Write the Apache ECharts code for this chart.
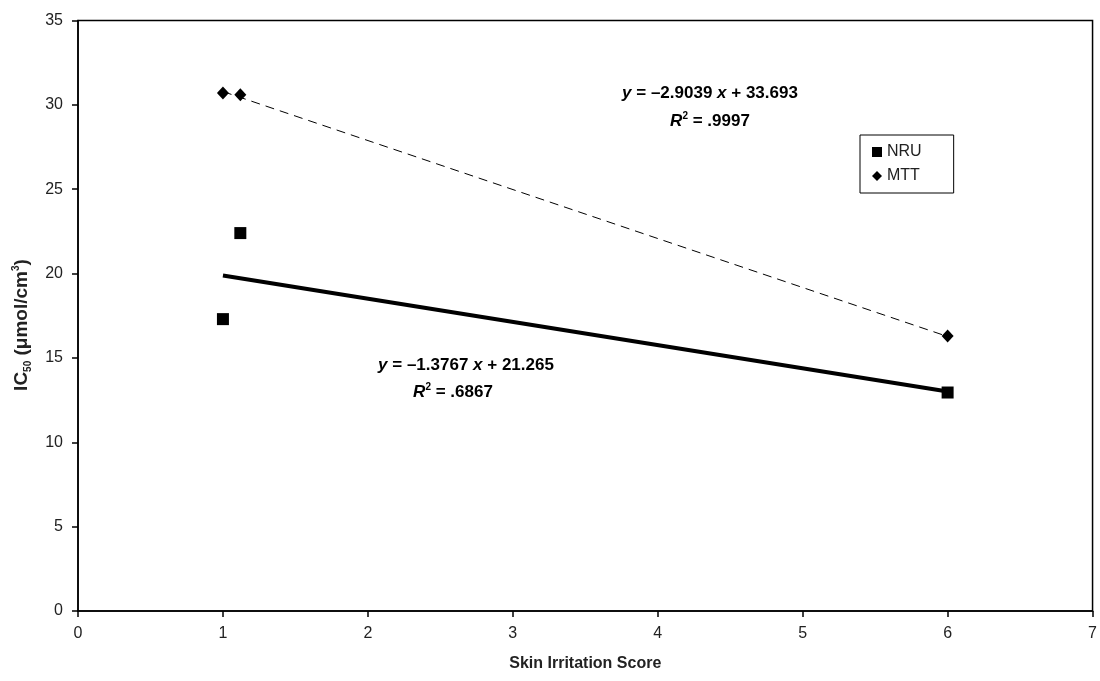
<!DOCTYPE html>
<html><head><meta charset="utf-8">
<script src="https://cdn.jsdelivr.net/npm/echarts@6/dist/echarts.min.js"></script>
<style>html,body{margin:0;padding:0;background:#fff}#c{width:1100px;height:681px}</style>
</head><body><div id="c"></div>
<script>
const nruX = [1, 1.12, 6];
const nruY = [17.3, 22.4, 12.95];
const mttX = [1, 1.12, 6];
const mttY = [30.7, 30.6, 16.3];
const nruFit = { slope: -1.3767, intercept: 21.265, r2: '.6867' };
const mttFit = { slope: -2.9039, intercept: 33.693, r2: '.9997' };
const fitRange = [1, 6];

const F = 'Liberation Sans, Arial, sans-serif';
const pts = (xs, ys) => xs.map((x, i) => [x, ys[i]]);
const fitLine = f => fitRange.map(x => [x, f.slope * x + f.intercept]);
const eqText = f => '{i|y} = –' + Math.abs(f.slope).toFixed(4) + ' {i|x} + ' + f.intercept.toFixed(3);
const r2Text = f => '{i|R}{sup|2} = ' + f.r2;
const rich = {
  i: { fontFamily: F, fontSize: 17, fontWeight: 'bold', fontStyle: 'italic', fill: '#000' },
  sup: { fontFamily: F, fontSize: 10, fontWeight: 'bold', fill: '#000', verticalAlign: 'top', lineHeight: 20 }
};
const txt = (x, y, text) => ({ type: 'text', x, y, style: { text, rich, align: 'center', verticalAlign: 'middle',
  fontFamily: F, fontSize: 17, fontWeight: 'bold', fill: '#000' } });

const chart = echarts.init(document.getElementById('c'));
chart.setOption({
  animation: false,
  backgroundColor: '#fff',
  grid: { left: 78, right: 5, top: 20.5, bottom: 70, show: true, borderColor: '#000', borderWidth: 1.5 },
  xAxis: {
    type: 'value', min: 0, max: 7, interval: 1,
    axisLine: { show: true, onZero: false, lineStyle: { color: '#000', width: 1.5 } },
    axisTick: { show: true, length: 6, lineStyle: { color: '#000', width: 1.5 } },
    axisLabel: { color: '#222', fontFamily: F, fontSize: 16, margin: 15 },
    splitLine: { show: false },
    name: 'Skin Irritation Score', nameLocation: 'middle', nameGap: 45,
    nameTextStyle: { color: '#222', fontFamily: F, fontSize: 16, fontWeight: 'bold' }
  },
  yAxis: {
    type: 'value', min: 0, max: 35, interval: 5,
    axisLine: { show: true, onZero: false, lineStyle: { color: '#000', width: 1.5 } },
    axisTick: { show: true, length: 6, lineStyle: { color: '#000', width: 1.5 } },
    axisLabel: { color: '#222', fontFamily: F, fontSize: 16, margin: 15 },
    splitLine: { show: false }
  },
  legend: {
    data: [
      { name: 'NRU', icon: 'rect' },
      { name: 'MTT', icon: 'diamond' }
    ],
    orient: 'vertical', left: 860, top: 135,
    itemWidth: 10, itemHeight: 10, itemGap: 8,
    borderColor: '#000', borderWidth: 1, padding: [9, 32, 9, 12],
    textStyle: { color: '#222', fontFamily: F, fontSize: 16 }
  },
  graphic: [
    txt(710, 93, eqText(mttFit)),
    txt(710, 121, r2Text(mttFit)),
    txt(466, 365, eqText(nruFit)),
    txt(453, 392, r2Text(nruFit)),
    { type: 'text', x: 22, y: 325, rotation: Math.PI / 2,
      style: { text: 'IC{sub|50} (μmol/cm{sup|3})', align: 'center', verticalAlign: 'middle',
        fontFamily: F, fontSize: 19, fontWeight: 'bold', fill: '#222',
        rich: {
          sub: { fontFamily: F, fontSize: 10, fontWeight: 'bold', fill: '#222', verticalAlign: 'bottom', lineHeight: 22 },
          sup: { fontFamily: F, fontSize: 10, fontWeight: 'bold', fill: '#222', verticalAlign: 'top', lineHeight: 22 }
        } } }
  ],
  series: [
    { name: 'NRU trend', type: 'line', data: fitLine(nruFit), symbol: 'none', silent: true,
      lineStyle: { color: '#000', width: 4 }, z: 2 },
    { name: 'MTT trend', type: 'line', data: fitLine(mttFit), symbol: 'none', silent: true,
      lineStyle: { color: '#000', width: 1, type: [9, 6] }, z: 2 },
    { name: 'NRU', type: 'scatter', data: pts(nruX, nruY), symbol: 'rect', symbolSize: 12,
      itemStyle: { color: '#000', opacity: 1 }, z: 3 },
    { name: 'MTT', type: 'scatter', data: pts(mttX, mttY), symbol: 'diamond', symbolSize: [12, 13],
      itemStyle: { color: '#000', opacity: 1 }, z: 3 }
  ]
});
</script></body></html>
